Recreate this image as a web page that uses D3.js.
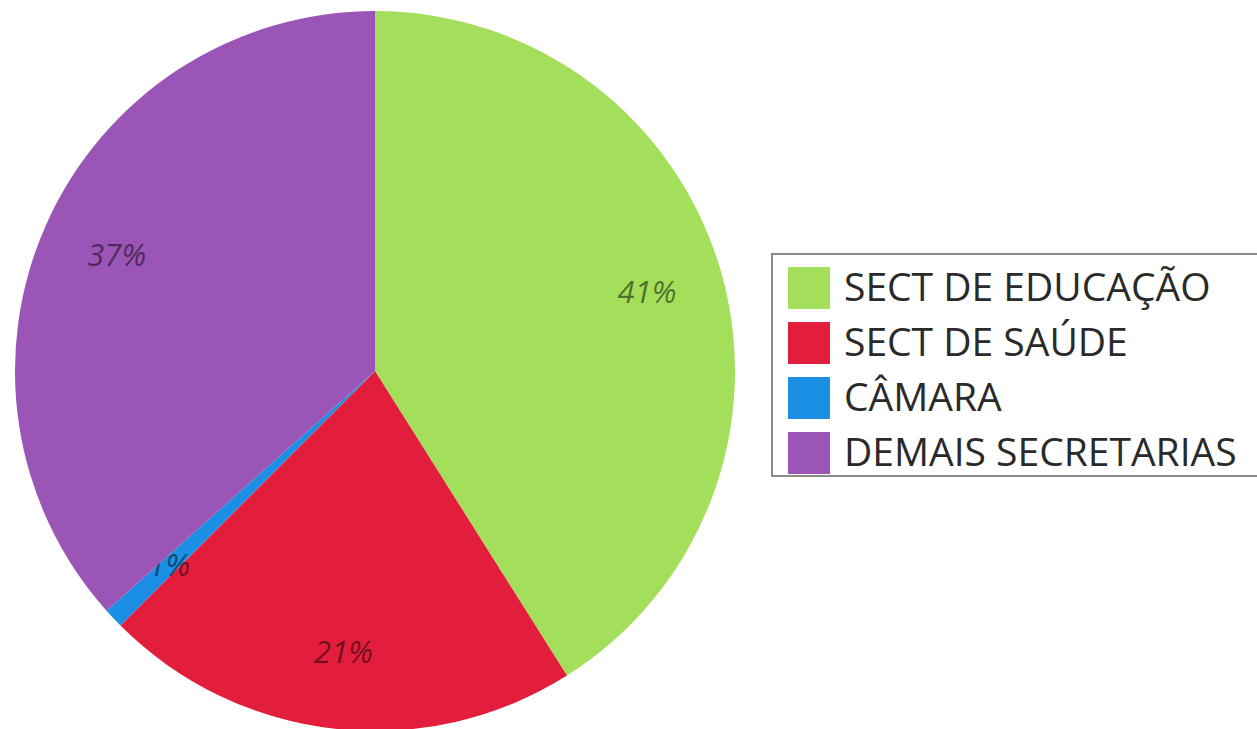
<!DOCTYPE html>
<html>
<head>
<meta charset="utf-8">
<script src="https://cdn.jsdelivr.net/npm/d3@7"></script>
<style>
	html, body { margin: 0; padding: 0; background: #fff; overflow: hidden; }
	#chart_pie { width: 1257px; height: 729px; }
	text { font-family: "Open Sans", "Noto Sans", sans-serif; }
</style>
</head>
<body>
<div id="chart_pie"></div>
<script>
//////// DATA ////////
var categories = ["SECT DE EDUCAÇÃO", "SECT DE SAÚDE", "CÂMARA", "DEMAIS SECRETARIAS"];
var values = [41.05, 21.45, 0.9, 36.6];
var labels = ["41%", "21%", "1%", "37%"];
var colors = ["#a3df5a", "#e31e3d", "#1a8fe3", "#9b55b6"];

function plotPie() {

	var width = 1257, height = 729,
		cx = 375, cy = 371,
		outerRadius = 360,
		labelRadius = 283;

	//////// SCALES ////////
	var color = d3.scaleOrdinal().domain(categories).range(colors);

	//////// CANVAS ////////
	var svg = d3.select("#chart_pie").append("svg")
		.attr("width", width)
		.attr("height", height);

	var data = categories.map(function(c, i) {
		return { id: c, value: values[i], label: labels[i] };
	});

	var pie = d3.pie().sort(null).value(function(d) { return d.value; });
	var arc = d3.arc().innerRadius(0).outerRadius(outerRadius);
	var labelArc = d3.arc().innerRadius(labelRadius).outerRadius(labelRadius);

	var g = svg.append("g")
		.attr("transform", "translate(" + cx + "," + cy + ")");

	var slices = g.selectAll(".arc")
		.data(pie(data)).enter().append("g")
			.attr("class", "arc");

	// Add forms
	slices.append("path")
		.attr("d", arc)
		.style("fill", function(d) { return color(d.data.id); });

	// Add labels
	slices.append("text")
		.attr("transform", function(d) { return "translate(" + labelArc.centroid(d) + ")"; })
		.attr("text-anchor", "middle")
		.attr("dy", "0.35em")
		.style("font-size", "31px")
		.style("font-style", "italic")
		.style("fill", "#000")
		.style("fill-opacity", 0.5)
		.text(function(d) { return d.data.label; });

	//////// LEGEND ////////
	var legend = svg.append("g")
		.attr("transform", "translate(772,254)");

	legend.append("rect")
		.attr("width", 520)
		.attr("height", 222)
		.style("fill", "#fff")
		.style("stroke", "#8c8c8c")
		.style("stroke-width", 2);

	var items = legend.selectAll(".item")
		.data(categories).enter().append("g")
			.attr("class", "item")
			.attr("transform", function(d, i) { return "translate(16," + (13 + i * 55) + ")"; });

	items.append("rect")
		.attr("width", 42)
		.attr("height", 42)
		.style("fill", function(d) { return color(d); });

	items.append("text")
		.attr("x", 56)
		.attr("y", 20)
		.attr("dy", "0.35em")
		.style("font-size", "39px")
		.style("fill", "#2a2a2a")
		.text(function(d) { return d; });
}
plotPie();
</script>
</body>
</html>
